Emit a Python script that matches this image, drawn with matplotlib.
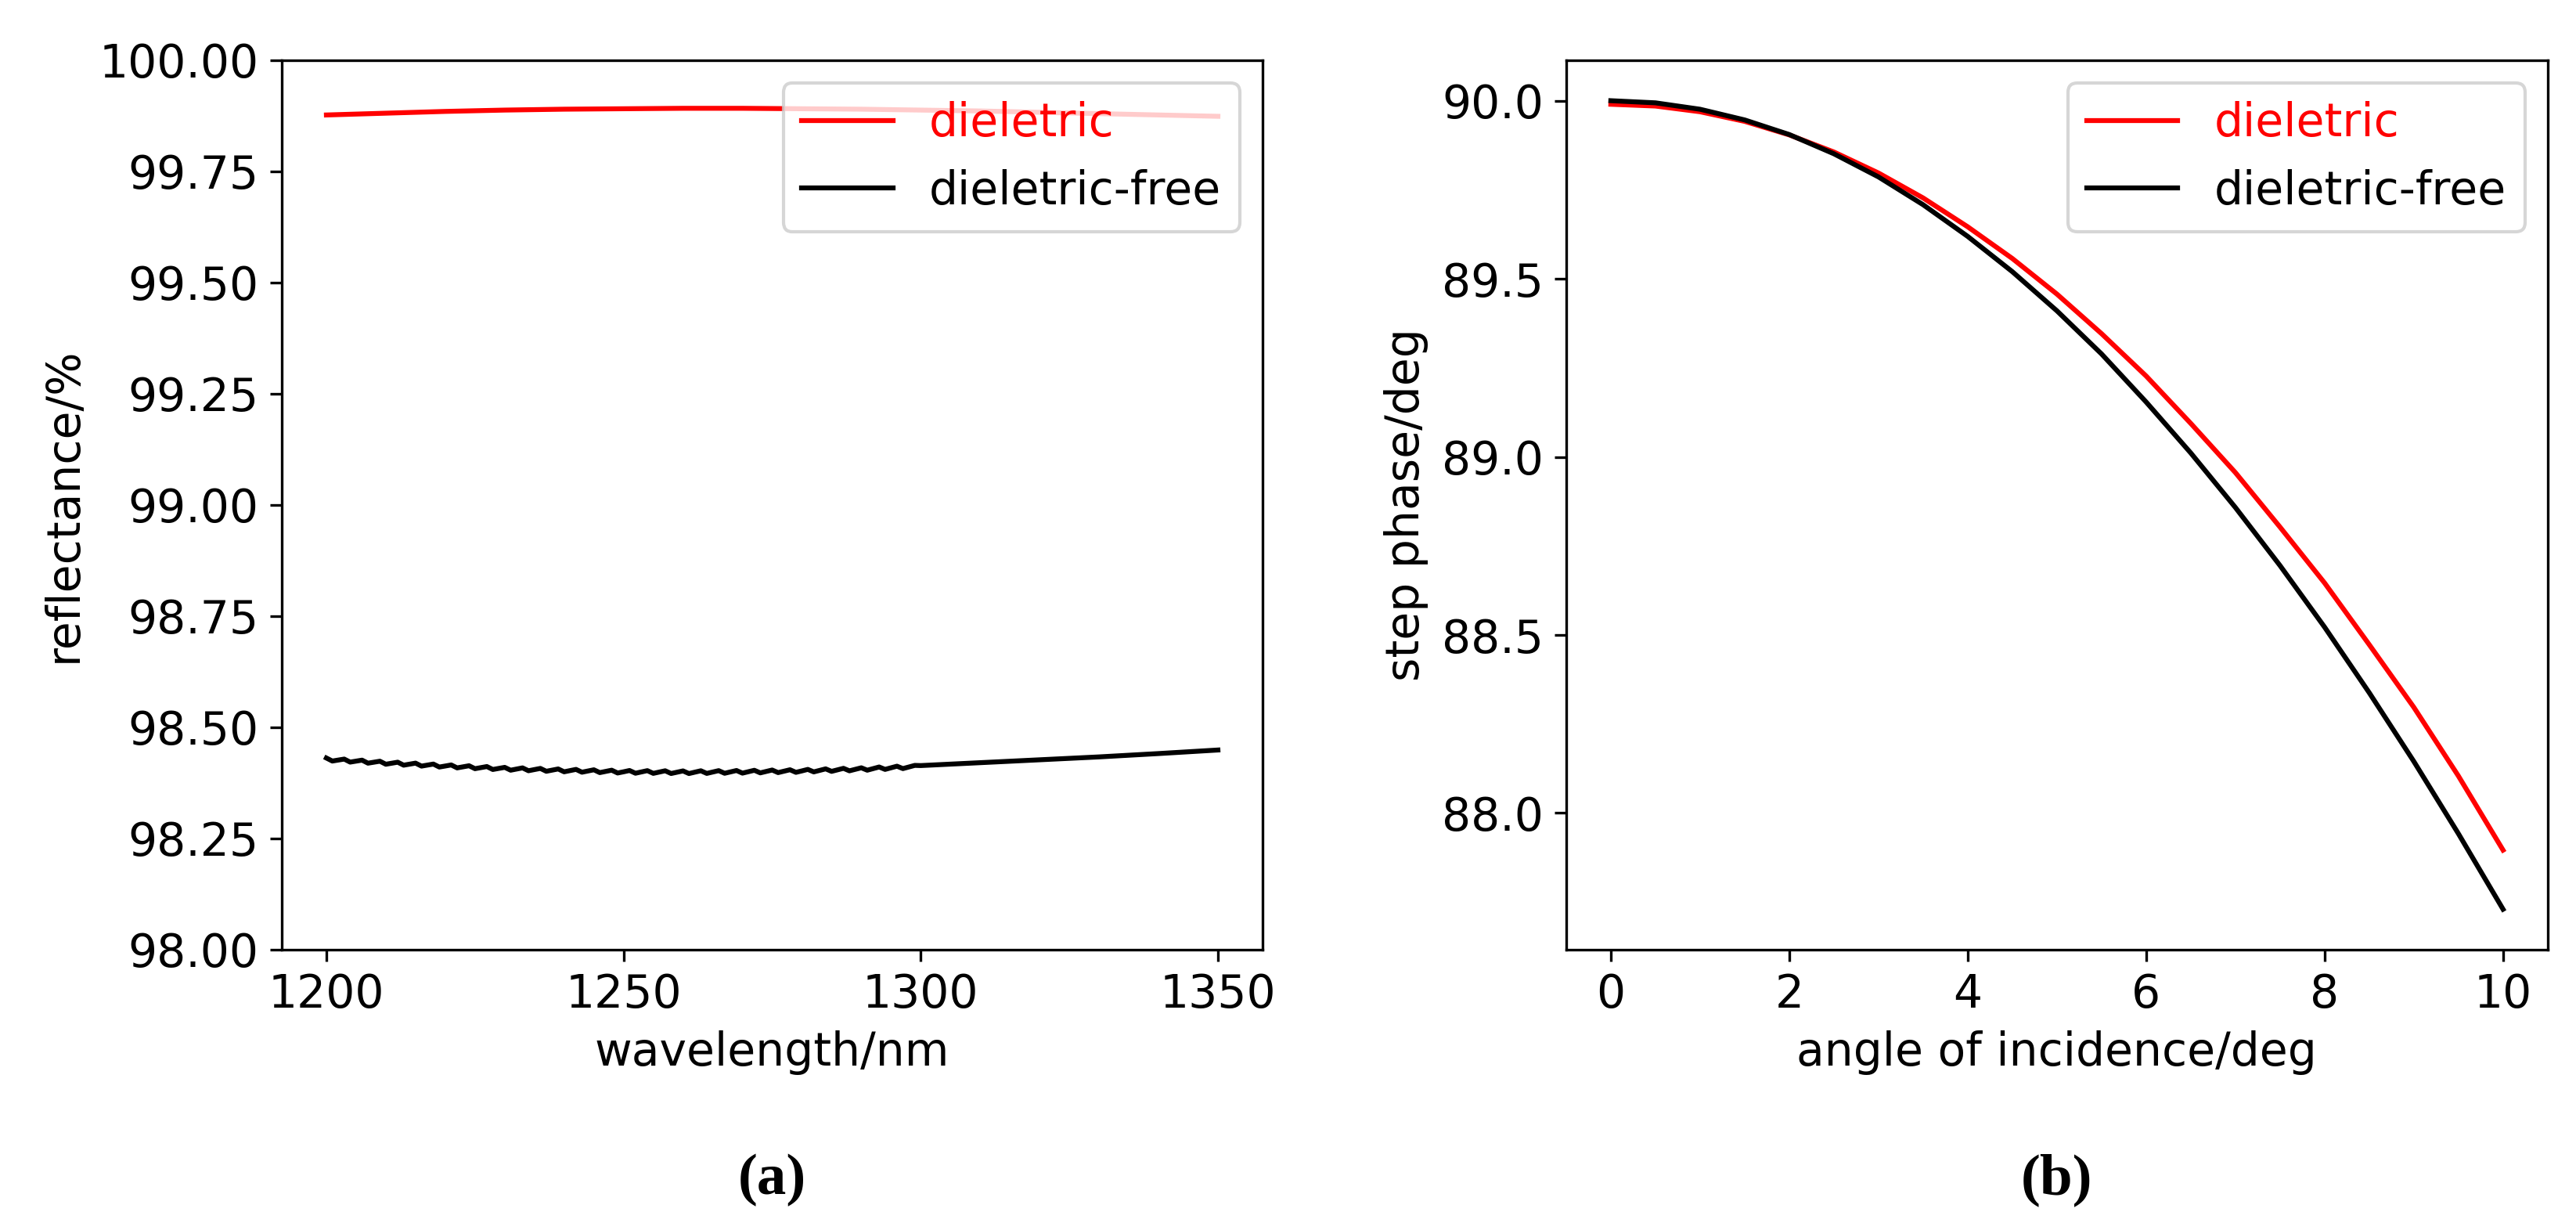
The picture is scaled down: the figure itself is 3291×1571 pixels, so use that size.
import matplotlib
matplotlib.use("Agg")
import matplotlib.pyplot as plt

# ---------------- data (a) ----------------
wl_diel = [1200, 1210, 1220, 1230, 1240, 1250, 1260, 1270, 1280, 1290,
           1300, 1310, 1320, 1330, 1340, 1350]
refl_diel = [99.877, 99.881, 99.885, 99.888, 99.890, 99.891, 99.892, 99.892,
             99.891, 99.890, 99.888, 99.886, 99.883, 99.880, 99.877, 99.874]

wl_free = list(range(1200, 1301)) + [1310, 1320, 1330, 1340, 1350]
refl_free = [
    98.4310, 98.4242, 98.4264, 98.4286, 98.4218, 98.4240, 98.4262, 98.4194, 98.4216, 98.4238,
    98.4170, 98.4193, 98.4216, 98.4149, 98.4172, 98.4195, 98.4128, 98.4151, 98.4174, 98.4107,
    98.4130, 98.4154, 98.4088, 98.4112, 98.4136, 98.4070, 98.4094, 98.4118, 98.4052, 98.4076,
    98.4100, 98.4036, 98.4062, 98.4088, 98.4024, 98.4050, 98.4076, 98.4012, 98.4038, 98.4064,
    98.4000, 98.4027, 98.4054, 98.3991, 98.4018, 98.4045, 98.3982, 98.4009, 98.4036, 98.3973,
    98.4000, 98.4029, 98.3968, 98.3997, 98.4026, 98.3965, 98.3994, 98.4023, 98.3962, 98.3991,
    98.4020, 98.3961, 98.3992, 98.4023, 98.3964, 98.3995, 98.4026, 98.3967, 98.3998, 98.4029,
    98.3970, 98.4002, 98.4034, 98.3976, 98.4008, 98.4040, 98.3982, 98.4014, 98.4046, 98.3988,
    98.4020, 98.4054, 98.3998, 98.4032, 98.4066, 98.4010, 98.4044, 98.4078, 98.4022, 98.4056,
    98.4090, 98.4036, 98.4072, 98.4108, 98.4054, 98.4090, 98.4126, 98.4072, 98.4108, 98.4144,
    98.4140,
    98.4205, 98.4270, 98.4335, 98.4410, 98.4490,
]
wl_ticks = [1200, 1250, 1300, 1350]

# ---------------- data (b) ----------------
angle = [0, 0.5, 1, 1.5, 2, 2.5, 3, 3.5, 4, 4.5, 5, 5.5, 6, 6.5, 7, 7.5, 8,
         8.5, 9, 9.5, 10]
phase_diel = [89.990, 89.985, 89.969, 89.942, 89.904, 89.856, 89.797, 89.727,
              89.646, 89.557, 89.457, 89.346, 89.227, 89.094, 88.956, 88.803,
              88.646, 88.473, 88.297, 88.104, 87.896]
phase_free = [90.000, 89.994, 89.976, 89.946, 89.905, 89.851, 89.786, 89.708,
              89.619, 89.520, 89.410, 89.289, 89.154, 89.011, 88.858, 88.695,
              88.522, 88.338, 88.145, 87.942, 87.730]

labels = ["dieletric", "dieletric-free"]

plt.rcParams['font.family'] = ['DejaVu Sans']
plt.rcParams['font.size'] = 14

fig = plt.figure(figsize=(3291 / 300, 1571 / 300), dpi=300)
ax1 = fig.add_axes([0.1094, 0.2279, 0.3807, 0.7231])
ax2 = fig.add_axes([0.6080, 0.2279, 0.3810, 0.7231])

ax1.plot(wl_diel, refl_diel, color='red', lw=1.5, label=labels[0])
ax1.plot(wl_free, refl_free, color='black', lw=1.5, label=labels[1])
ax1.set_ylim(98, 100)
ax1.set_xticks(wl_ticks)
ax1.set_xlabel("wavelength/nm")
ax1.set_ylabel("reflectance/%")
ax1.legend(loc='upper right', labelcolor='linecolor')

ax2.plot(angle, phase_diel, color='red', lw=1.5, label=labels[0])
ax2.plot(angle, phase_free, color='black', lw=1.5, label=labels[1])
ax2.set_xlabel("angle of incidence/deg")
ax2.set_ylabel("step phase/deg")
ax2.legend(loc='upper right', labelcolor='linecolor')

fig.text(0.2997, 1 - 1507 / 1571, "(a)", ha='center', va='center',
         fontsize=18, fontweight='bold', family='Liberation Serif')
fig.text(0.7985, 1 - 1507 / 1571, "(b)", ha='center', va='center',
         fontsize=18, fontweight='bold', family='Liberation Serif')

fig.savefig("out.png", dpi=300)
